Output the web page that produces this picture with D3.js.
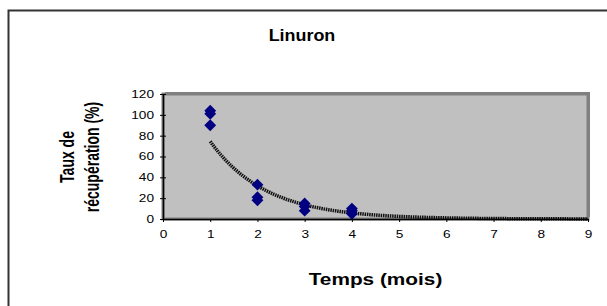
<!DOCTYPE html>
<html>
<head>
<meta charset="utf-8">
<script src="https://cdn.jsdelivr.net/npm/d3@7"></script>
<style>
  html, body { margin: 0; padding: 0; background: #fff; }
  svg { display: block; }
</style>
</head>
<body>
<div id="chart"></div>
<script>
// data
const months = [1, 1, 1, 2, 2, 2, 3, 3, 3, 4, 4, 4];
const recovery = [104, 101, 90, 33, 21, 18, 15, 12, 8, 10, 8, 5];
const xTicks = [0, 1, 2, 3, 4, 5, 6, 7, 8, 9];
const yTicks = [0, 20, 40, 60, 80, 100, 120];

const W = 607, H = 306;
const margin = { l: 163, r: 19, t: 94, b: 87 };
// the original picture is stretched horizontally, text included
const sx = 1.3;

const svg = d3.select("#chart").append("svg")
  .attr("width", W)
  .attr("height", H)
  .attr("font-family", "Liberation Sans, Arial, sans-serif");

// outer chart frame
svg.append("rect")
  .attr("x", 8.5).attr("y", 10.5)
  .attr("width", 620).attr("height", 320)
  .attr("fill", "#fff")
  .attr("stroke", "#333")
  .attr("stroke-width", 2);

const x = d3.scaleLinear().domain([0, 9]).range([margin.l, W - margin.r]);
const y = d3.scaleLinear().domain([0, 120]).range([H - margin.b, margin.t]);

// plot area (grey with shadowed frame)
svg.append("rect")
  .attr("x", x(0) + 2).attr("y", y(120) - 2)
  .attr("width", x(9) - x(0)).attr("height", y(0) - y(120))
  .attr("fill", "#808080");
svg.append("rect")
  .attr("x", x(0)).attr("y", y(120))
  .attr("width", x(9) - x(0)).attr("height", y(0) - y(120))
  .attr("fill", "#c0c0c0")
  .attr("stroke", "#808080")
  .attr("stroke-width", 3);

// exponential trendline fitted from the points (log-linear least squares)
const lx = d3.mean(months), ly = d3.mean(recovery, v => Math.log(v));
let sxy = 0, sxx = 0;
months.forEach((m, i) => {
  sxy += (m - lx) * (Math.log(recovery[i]) - ly);
  sxx += (m - lx) * (m - lx);
});
const b = sxy / sxx, a = Math.exp(ly - b * lx);
const trend = d3.range(1, 9.001, 0.05).map(t => [t, a * Math.exp(b * t)]);

svg.append("path")
  .attr("d", d3.line().x(d => x(d[0])).y(d => y(d[1]))(trend))
  .attr("fill", "none")
  .attr("stroke", "#111")
  .attr("stroke-width", 3.5)
  .attr("stroke-dasharray", "1.5 0.8");

// axes
const ax = svg.append("g")
  .attr("transform", `translate(0,${y(0)})`)
  .call(d3.axisBottom(x).tickValues(xTicks).tickSize(3).tickPadding(9).tickSizeOuter(0));
const ay = svg.append("g")
  .attr("transform", `translate(${x(0)},0)`)
  .call(d3.axisLeft(y).tickValues(yTicks).tickSize(3).tickPadding(6).tickSizeOuter(0));
[ax, ay].forEach(g => {
  g.select(".domain").attr("stroke", "#000").attr("stroke-width", 1.5);
  g.selectAll(".tick line").attr("stroke", "#000");
  g.selectAll(".tick text").attr("fill", "#000").attr("font-size", 10.5)
    .attr("font-family", "Liberation Sans, Arial, sans-serif");
});
ay.selectAll(".tick line").attr("x2", 3).attr("x1", -3);
ax.selectAll(".tick text").attr("transform", `scale(${sx},1)`);
ay.selectAll(".tick text").each(function () {
  const t = d3.select(this);
  const tx = +t.attr("x");
  t.attr("x", 0).attr("transform", `translate(${tx},0) scale(${sx},1)`);
});

// points (diamonds)
svg.append("g").selectAll("path")
  .data(months.map((m, i) => [m, recovery[i]]))
  .join("path")
  .attr("d", d3.symbol(d3.symbolSquare, 70))
  .attr("transform", d => `translate(${x(d[0])},${y(d[1])}) rotate(45)`)
  .attr("fill", "#000080");

// titles
svg.append("text")
  .attr("transform", `translate(302,41) scale(1.12,1)`)
  .attr("text-anchor", "middle")
  .attr("font-size", 16).attr("font-weight", "bold")
  .text("Linuron");

svg.append("text")
  .attr("transform", `translate(${(x(0) + x(9)) / 2},285) scale(1.3,1)`)
  .attr("text-anchor", "middle")
  .attr("font-size", 16).attr("font-weight", "bold")
  .text("Temps (mois)");

svg.append("text")
  .attr("transform", `translate(74,157) scale(1.4,1) rotate(-90)`)
  .attr("text-anchor", "middle")
  .attr("font-size", 14).attr("font-weight", "bold")
  .text("Taux de");
svg.append("text")
  .attr("transform", `translate(99,157) scale(1.4,1) rotate(-90)`)
  .attr("text-anchor", "middle")
  .attr("font-size", 14).attr("font-weight", "bold")
  .text("récupération (%)");
</script>
</body>
</html>
